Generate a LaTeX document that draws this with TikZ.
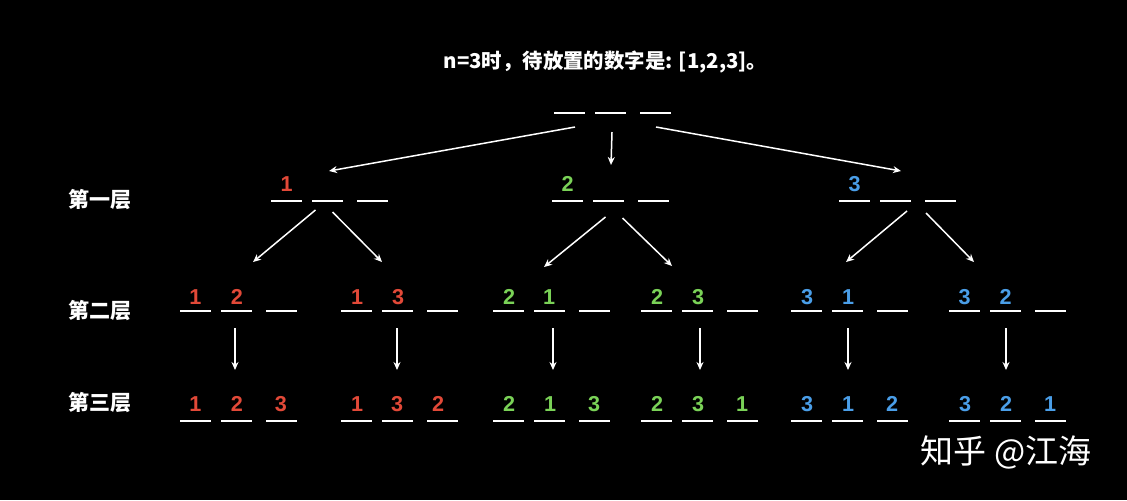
\documentclass[tikz,border=0pt]{standalone}
\usepackage{fontspec}
\setmainfont{Liberation Sans}
\newfontfamily\cjk{Noto Sans CJK SC}
\usetikzlibrary{arrows.meta}
\definecolor{numred}{RGB}{226,73,56}
\definecolor{numgreen}{RGB}{122,210,87}
\definecolor{numblue}{RGB}{74,158,232}

\begin{document}
\begin{tikzpicture}[x=0.5pt,y=-0.5pt,
        slot/.style={white,line width=1pt},
        grp/.style={inner sep=0pt,minimum width=58.5pt,minimum height=0pt},
        num/.style={font=\fontsize{10.8}{12}\selectfont\bfseries,inner sep=0pt},
        lvl/.style={white,font=\cjk\bfseries\fontsize{10.5}{12}\selectfont,inner sep=0pt},
        arr/.style={white,line width=0.75pt,-{Stealth[length=4pt,width=3.5pt]}}]
    \fill[black] (0,0) rectangle (1127,500);

    % title and level labels
    \node[white,font=\cjk\bfseries\fontsize{10.2}{12}\selectfont] (title) at (605.5,62) {n=3时，待放置的数字是: [1,2,3]。};
    \node[lvl] (lv1) at (99.5,200) {第一层};
    \node[lvl] (lv2) at (99.5,311) {第二层};
    \node[lvl] (lv3) at (99.5,403) {第三层};

    % blanks
    \foreach \x/\y in {554/113,271/201,552/201,839/201,
            180/311,341/311,493/311,641/311,791/311,949/311,
            180/421,341/421,493/421,641/421,791/421,949/421}
        \draw[slot] (\x,\y) -- ++(31,0) (\x+41,\y) -- ++(31,0) (\x+86,\y) -- ++(31,0);

    \node[grp] (r) at (611.5,113) {};
    \node[grp] (p1) at (329.5,201) {};
    \node[grp] (p2) at (610.5,201) {};
    \node[grp] (p3) at (897.5,201) {};
    \node[grp] (p12) at (238.5,311) {};
    \node[grp] (p13) at (399.5,311) {};
    \node[grp] (p21) at (551.5,311) {};
    \node[grp] (p23) at (699.5,311) {};
    \node[grp] (p31) at (849.5,311) {};
    \node[grp] (p32) at (1007.5,311) {};
    \node[grp] (p123) at (238.5,421) {};
    \node[grp] (p132) at (399.5,421) {};
    \node[grp] (p213) at (551.5,421) {};
    \node[grp] (p231) at (699.5,421) {};
    \node[grp] (p312) at (849.5,421) {};
    \node[grp] (p321) at (1007.5,421) {};

    % first level
    \node[num,numred] (p1a) at (286.5,184) {1};
    \node[num,numgreen] (p2a) at (567.5,184) {2};
    \node[num,numblue] (p3a) at (854.5,184) {3};

    % second level
    \node[num,numred] (p12a) at (195.5,297) {1};
    \node[num,numred] (p12b) at (237,297) {2};
    \node[num,numred] (p13a) at (357,297) {1};
    \node[num,numred] (p13b) at (398,297) {3};
    \node[num,numgreen] (p21a) at (509,297) {2};
    \node[num,numgreen] (p21b) at (549,297) {1};
    \node[num,numgreen] (p23a) at (657,297) {2};
    \node[num,numgreen] (p23b) at (698,297) {3};
    \node[num,numblue] (p31a) at (807,297) {3};
    \node[num,numblue] (p31b) at (848,297) {1};
    \node[num,numblue] (p32a) at (964.5,297) {3};
    \node[num,numblue] (p32b) at (1005.5,297) {2};

    % third level
    \node[num,numred] (p123a) at (195.5,404) {1};
    \node[num,numred] (p123b) at (237,404) {2};
    \node[num,numred] (p123c) at (281,404) {3};
    \node[num,numred] (p132a) at (357,404) {1};
    \node[num,numred] (p132b) at (397,404) {3};
    \node[num,numred] (p132c) at (438,404) {2};
    \node[num,numgreen] (p213a) at (509,404) {2};
    \node[num,numgreen] (p213b) at (550,404) {1};
    \node[num,numgreen] (p213c) at (594,404) {3};
    \node[num,numgreen] (p231a) at (657,404) {2};
    \node[num,numgreen] (p231b) at (698,404) {3};
    \node[num,numgreen] (p231c) at (742,404) {1};
    \node[num,numblue] (p312a) at (807,404) {3};
    \node[num,numblue] (p312b) at (848,404) {1};
    \node[num,numblue] (p312c) at (892,404) {2};
    \node[num,numblue] (p321a) at (965,404) {3};
    \node[num,numblue] (p321b) at (1006,404) {2};
    \node[num,numblue] (p321c) at (1050,404) {1};

    % arrows
    \draw[arr] ([shift={(-36.5,14)}]r.center) -- ([shift={(-0.5,-30)}]p1.center);
    \draw[arr] ([shift={(0.5,19)}]r.center) -- ([shift={(0.5,-36)}]p2.center);
    \draw[arr] ([shift={(44.5,14)}]r.center) -- ([shift={(3.5,-30)}]p3.center);

    \draw[arr] ([shift={(-14,9)}]p1.center) -- ([shift={(14.5,-49)}]p12.center);
    \draw[arr] ([shift={(3,11)}]p1.center) -- ([shift={(-17.5,-49)}]p13.center);
    \draw[arr] ([shift={(-5,16)}]p2.center) -- ([shift={(-7.5,-44)}]p21.center);
    \draw[arr] ([shift={(12,17)}]p2.center) -- ([shift={(-27.5,-45)}]p23.center);
    \draw[arr] ([shift={(9.5,10)}]p3.center) -- ([shift={(-3.5,-49)}]p31.center);
    \draw[arr] ([shift={(28.5,12)}]p3.center) -- ([shift={(-33.5,-49)}]p32.center);

    \draw[arr] ([shift={(-3.5,17)}]p12.center) -- ([shift={(-3.5,-51)}]p123.center);
    \draw[arr] ([shift={(-2.5,17)}]p13.center) -- ([shift={(-2.5,-51)}]p132.center);
    \draw[arr] ([shift={(1.5,17)}]p21.center) -- ([shift={(1.5,-51)}]p213.center);
    \draw[arr] ([shift={(0.5,17)}]p23.center) -- ([shift={(0.5,-51)}]p231.center);
    \draw[arr] ([shift={(-1.5,17)}]p31.center) -- ([shift={(-1.5,-51)}]p312.center);
    \draw[arr] ([shift={(-1.5,17)}]p32.center) -- ([shift={(-1.5,-51)}]p321.center);

    % watermark
    \node[white,font=\cjk\fontsize{16.5}{18}\selectfont] (mark) at (1006,452) {知乎 @江海};
\end{tikzpicture}
\end{document}
